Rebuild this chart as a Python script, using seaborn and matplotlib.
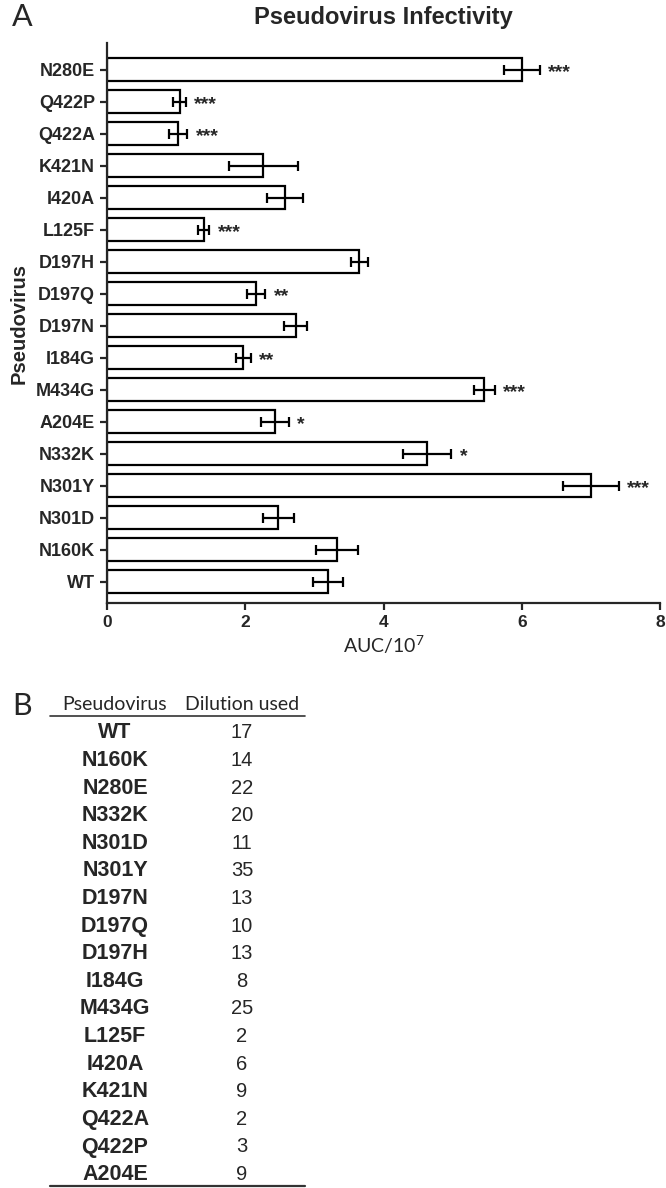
import numpy as np
import pandas as pd
import seaborn as sns
import matplotlib.pyplot as plt

# ---------------- data ----------------
# panel A, top to bottom as drawn
viruses = ["N280E", "Q422P", "Q422A", "K421N", "I420A", "L125F", "D197H", "D197Q",
           "D197N", "I184G", "M434G", "A204E", "N332K", "N301Y", "N301D", "N160K", "WT"]
auc_mean = [6.00, 1.05, 1.03, 2.26, 2.57, 1.40, 3.65, 2.16,
            2.73, 1.97, 5.46, 2.43, 4.63, 7.00, 2.48, 3.33, 3.20]
auc_err = [0.26, 0.09, 0.13, 0.50, 0.26, 0.08, 0.12, 0.13,
           0.17, 0.11, 0.15, 0.20, 0.35, 0.40, 0.22, 0.30, 0.22]
stars = ["***", "***", "***", "", "", "***", "", "**",
         "", "**", "***", "*", "*", "***", "", "", ""]

# panel B table
table_viruses = ["WT", "N160K", "N280E", "N332K", "N301D", "N301Y", "D197N", "D197Q", "D197H",
                 "I184G", "M434G", "L125F", "I420A", "K421N", "Q422A", "Q422P", "A204E"]
dilution = [17, 14, 22, 20, 11, 35, 13, 10, 13, 8, 25, 2, 6, 9, 2, 3, 9]

df = pd.DataFrame({"virus": viruses, "auc": auc_mean, "err": auc_err})

sns.set_style("ticks")
plt.rcParams["font.family"] = ["Liberation Sans", "DejaVu Sans"]
plt.rcParams["mathtext.default"] = "regular"

W, H = 666, 1188
fig = plt.figure(figsize=(W / 100, H / 100), dpi=100)

ax = fig.add_axes([107 / W, 1 - 603 / H, (660 - 107) / W, (603 - 43) / H])
sns.barplot(data=df, x="auc", y="virus", order=viruses, color="white",
            edgecolor="black", linewidth=1.6, width=0.72, ax=ax)
ypos = np.arange(len(viruses))
ax.errorbar(df["auc"], ypos, xerr=df["err"], fmt="none", ecolor="black",
            elinewidth=1.6, capsize=3.5, capthick=1.6)
for i in range(len(viruses)):
    if stars[i]:
        ax.text(auc_mean[i] + auc_err[i] + 0.12, i + 0.08, stars[i], va="center", ha="left",
                fontsize=14, fontweight="bold")

ax.set_xlim(0, 8)
ax.set_ylim(len(viruses) - 0.34, -0.84)
ax.set_xticks([0, 2, 4, 6, 8])
sns.despine(ax=ax)
for s in ["left", "bottom"]:
    ax.spines[s].set_linewidth(1.6)
ax.tick_params(axis="both", width=1.6, length=5, labelsize=13)
ax.tick_params(axis="x", labelsize=12.5)
for lab in ax.get_xticklabels() + ax.get_yticklabels():
    lab.set_fontweight("bold")
ax.set_xlabel("AUC/10$^{7}$", fontsize=14, family=["Lato", "DejaVu Sans"], labelpad=3)
ax.set_ylabel("Pseudovirus", fontsize=14.5, fontweight="bold", labelpad=5)
ax.set_title("Pseudovirus Infectivity", fontsize=17, fontweight="bold", x=0.5, y=1.0, pad=14)

fig.text(12 / W, 1 - 17 / H, "A", fontsize=22, family=["Lato", "DejaVu Sans"],
         ha="left", va="center")
fig.text(12 / W, 1 - 706 / H, "B", fontsize=22, family=["Lato", "DejaVu Sans"],
         ha="left", va="center")

# ---------------- table (panel B) ----------------
def fy(py):
    return 1 - py / H

c1, c2 = 115 / W, 242 / W
fig.text(c1, fy(705), "Pseudovirus", ha="center", va="center", fontsize=14,
         family=["Lato", "DejaVu Sans"])
fig.text(c2, fy(705), "Dilution used", ha="center", va="center", fontsize=14,
         family=["Lato", "DejaVu Sans"])
fig.add_artist(plt.Line2D([50 / W, 305 / W], [fy(716), fy(716)], color="#333333", lw=1.2))
for i, (name, d) in enumerate(zip(table_viruses, dilution)):
    yy = fy(733 + i * 27.6)
    fig.text(c1, yy, name, ha="center", va="center", fontsize=15.5, fontweight="bold")
    fig.text(c2, yy, str(d), ha="center", va="center", fontsize=14.5)
fig.add_artist(plt.Line2D([50 / W, 305 / W], [fy(1186), fy(1186)], color="#333333", lw=1.6))

fig.savefig("out.png", dpi=100)
